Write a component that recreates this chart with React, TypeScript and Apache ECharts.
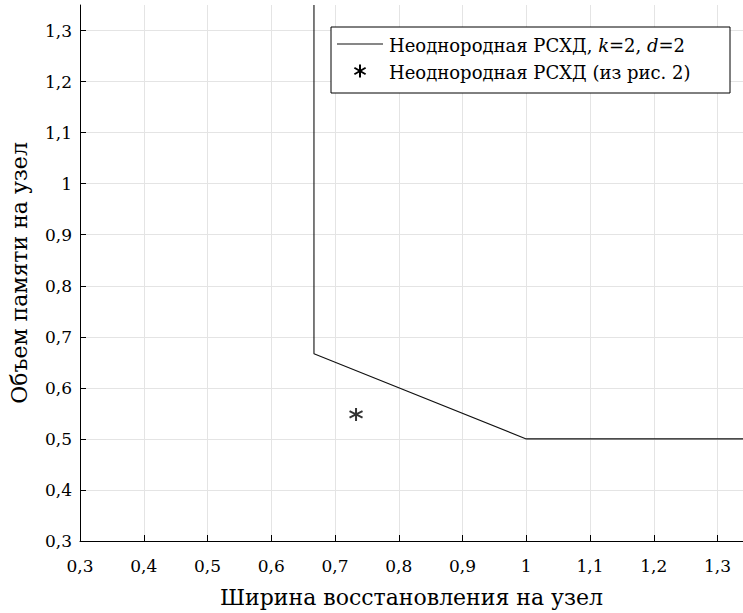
import React, { useEffect, useRef } from "react";
import * as echarts from "echarts";

const boundaryX = [0.667, 0.667, 1.0, 1.34];
const boundaryY = [1.35, 0.667, 0.5, 0.5];
const pointX = [0.733];
const pointY = [0.548];
const seriesNames = ["Неоднородная РСХД, k=2, d=2", "Неоднородная РСХД (из рис. 2)"];
const xTitle = "Ширина восстановления на узел";
const yTitle = "Объем памяти на узел";

const FONT = "DejaVu Serif";
const STAR = "path://M0,-1L0,1M-0.866,-0.5L0.866,0.5M-0.866,0.5L0.866,-0.5";

const fmt = (v: number) => {
  const r = Math.round(v * 10) / 10;
  if (Math.abs(r - v) > 1e-6) return "";
  return String(r).replace(".", ",");
};

export default function App() {
  const ref = useRef<HTMLDivElement>(null);
  useEffect(() => {
    if (!ref.current) return;
    const chart = echarts.init(ref.current, null, { renderer: "svg" });
    const lx = 331, ly = 27, lw = 399, lh = 66;
    chart.setOption({
      animation: false,
      backgroundColor: "#fff",
      textStyle: { fontFamily: FONT },
      grid: { left: 73, right: 0, top: 5, bottom: 72, containLabel: false },
      xAxis: {
        type: "value",
        min: 0.3,
        max: 1.34,
        interval: 0.1,
        name: xTitle,
        nameLocation: "middle",
        nameGap: 45,
        nameTextStyle: { fontFamily: FONT, fontSize: 22, color: "#000" },
        axisLine: { show: true, lineStyle: { color: "#000", width: 1 } },
        axisTick: { show: true, inside: true, length: 6, lineStyle: { color: "#000" } },
        axisLabel: { formatter: fmt, fontFamily: FONT, fontSize: 17, color: "#000", margin: 16, showMaxLabel: false },
        splitLine: { show: true, showMaxLine: false, lineStyle: { color: "#e4e4e4", width: 1 } },
      },
      yAxis: {
        type: "value",
        min: 0.3,
        max: 1.35,
        interval: 0.1,
        name: yTitle,
        nameLocation: "middle",
        nameGap: 50,
        nameRotate: 90,
        nameTextStyle: { fontFamily: FONT, fontSize: 22, color: "#000" },
        axisLine: { show: true, lineStyle: { color: "#000", width: 1 } },
        axisTick: { show: true, inside: true, length: 6, lineStyle: { color: "#000" } },
        axisLabel: { formatter: fmt, fontFamily: FONT, fontSize: 17, color: "#000", margin: 8, showMaxLabel: false },
        splitLine: { show: true, showMaxLine: false, lineStyle: { color: "#e4e4e4", width: 1 } },
      },
      series: [
        {
          name: seriesNames[0],
          type: "line",
          data: boundaryX.map((x, i) => [x, boundaryY[i]]),
          symbol: "none",
          lineStyle: { color: "#111", width: 1.1 },
          clip: true,
        },
        {
          name: seriesNames[1],
          type: "scatter",
          data: pointX.map((x, i) => [x, pointY[i]]),
          symbol: STAR,
          symbolSize: 13,
          itemStyle: { color: "transparent", borderColor: "#000", borderWidth: 2 },
        },
      ],
      graphic: [
        {
          type: "rect",
          shape: { x: lx, y: ly, width: lw, height: lh },
          style: { fill: "#fff", stroke: "#000", lineWidth: 1 },
          z: 100,
        },
        {
          type: "line",
          shape: { x1: lx + 6, y1: ly + 17, x2: lx + 52, y2: ly + 17 },
          style: { stroke: "#111", lineWidth: 1.1 },
          z: 101,
        },
        {
          type: "group",
          x: lx + 29,
          y: ly + 44,
          z: 101,
          children: [
            { type: "line", shape: { x1: 0, y1: -6.5, x2: 0, y2: 6.5 }, style: { stroke: "#000", lineWidth: 2 }, z: 101 },
            { type: "line", shape: { x1: -5.6, y1: -3.25, x2: 5.6, y2: 3.25 }, style: { stroke: "#000", lineWidth: 2 }, z: 101 },
            { type: "line", shape: { x1: -5.6, y1: 3.25, x2: 5.6, y2: -3.25 }, style: { stroke: "#000", lineWidth: 2 }, z: 101 },
          ],
        },
        {
          type: "text",
          x: lx + 58,
          y: ly + 18,
          z: 101,
          style: {
            text: "{n|Неоднородная РСХД, }{i|k}{n|=2, }{i|d}{n|=2}",
            verticalAlign: "middle",
            fontFamily: FONT,
            fontSize: 18,
            rich: {
              n: { fontFamily: FONT, fontSize: 18, fill: "#000" },
              i: { fontFamily: FONT, fontSize: 18, fontStyle: "italic", fill: "#000" },
            },
          },
        },
        {
          type: "text",
          x: lx + 58,
          y: ly + 45,
          z: 101,
          style: { text: seriesNames[1], fontFamily: FONT, fontSize: 18, fill: "#000", verticalAlign: "middle" },
        },
      ],
    });
    return () => chart.dispose();
  }, []);
  return <div ref={ref} style={{ position: "fixed", left: 0, top: 0, width: 743, height: 613 }} />;
}
